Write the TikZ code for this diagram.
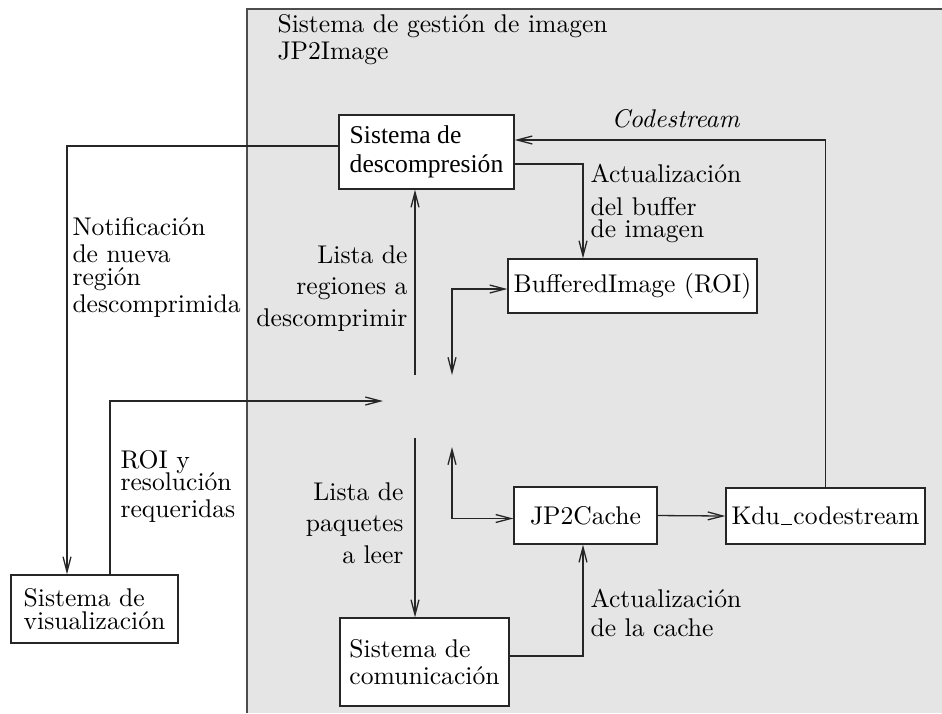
\documentclass[tikz,border=0pt]{standalone}
\usepackage{fontspec}
\newfontfamily\timesfont{Liberation Serif}
\usetikzlibrary{arrows.meta}
\newlength\px
\setlength\px{0.390625pt}
% underscore drawn as a short rule on the baseline
\newcommand\lowbar{\kern.04em\vbox{\hrule width .45em height .4pt}\kern.04em}
\begin{document}
\begin{tikzpicture}[x=\px, y=-\px,
  every node/.style={font=\fontsize{10}{10.5}\selectfont, inner sep=0pt},
  box/.style={draw=black!85, fill=white, line width=1.3\px, align=left},
  conn/.style={draw=black!85, line width=1.3\px},
  tip/.style={-{Straight Barb[length=5.9pt,width=3.1pt]}},
  tips/.style={{Straight Barb[length=5.9pt,width=3.1pt]}-{Straight Barb[length=5.9pt,width=3.1pt]}},
  note/.style={align=left, anchor=north west},
  rnote/.style={align=right, anchor=north east},
]
\useasboundingbox (0,0) rectangle (942,713);

% image management subsystem area
\fill[black!10] (247,9) rectangle (942,713);
\draw[black!70, line width=1.8\px] (247,713) -- (247,9) -- (942,9);
\node[note] (title) at (277,14) {Sistema de gestión de imagen\\JP2Image};

% components
\node[box, minimum width=175\px, minimum height=74\px,
      font=\timesfont\fontsize{10}{11.3}\selectfont] (descomp) at (426.5,152)
  {Sistema de\\descompresión};
\node[box, minimum width=249\px, minimum height=54\px] (buffered) at (632.5,286)
  {BufferedImage (ROI)};
\node[box, minimum width=143\px, minimum height=57\px] (cache) at (585.5,515.5)
  {JP2Cache};
\node[box, minimum width=199\px, minimum height=56\px] (kdu) at (825.5,516)
  {Kdu\lowbar codestream};
\node[box, minimum width=169\px, minimum height=88\px] (comm) at (424.5,662)
  {Sistema de\\comunicación};
\node[box, minimum width=167\px, minimum height=68\px] (vis) at (94.5,609)
  {Sistema de\\[-1.5pt]visualización};

% hub end points and turning columns
\coordinate (hubW) at (383,401);
\coordinate (hubN1) at (415,375);
\coordinate (hubN2) at (452,375);
\coordinate (hubS1) at (415,438);
\coordinate (hubS2) at (452,447);
\coordinate (xbuf) at (583,0);
\coordinate (xcache) at (583,0);
\coordinate (xvis) at (67,0);
\coordinate (xroi) at (110,0);

% connectors
\draw[conn,tip] (kdu.north) |- ([yshift=12\px]descomp.east);
\node[anchor=base, font=\itshape\fontsize{10}{10.5}\selectfont] (cs) at (675.5,127) {Codestream};

\draw[conn,tip] ([yshift=-12\px]descomp.east) -| (xbuf |- buffered.north);
\node[note] (lbuf) at (590,164) {Actualización\\[2.4pt]del buffer\\[-1.9pt]de imagen};

\draw[conn,tip] ([yshift=6\px]descomp.west) -| (xvis |- vis.north);
\node[note] (lnotif) at (72,217) {Notificación\\de nueva\\[-1.5pt]región\\descomprimida};

\draw[conn,tip] (xroi |- vis.north) |- (hubW);
\node[note] (lroi) at (120,450) {ROI y\\[-2pt]resolución\\requeridas};

\draw[conn,tip] (hubN1) -- (hubN1 |- descomp.south);
\node[rnote] (lreg) at (408,245) {Lista de\\[1.8pt]regiones a\\[1.8pt]descomprimir};

\draw[conn,tips] (hubN2) |- ([yshift=-3\px]buffered.west);
\draw[conn,tips] (hubS2) |- ([yshift=-3\px]cache.west);

\draw[conn,tip] (hubS1) -- (hubS1 |- comm.north);
\node[rnote] (lpaq) at (404,482) {Lista de\\[1.8pt]paquetes\\[1.8pt]a leer};

\draw[conn,tip] (cache.east) -- (kdu.west);

\draw[conn,tip] ([yshift=6\px]comm.east) -| (xcache |- cache.south);
\node[note] (lcache) at (590,589) {Actualización\\[0.5pt]de la cache};
\end{tikzpicture}
\end{document}
